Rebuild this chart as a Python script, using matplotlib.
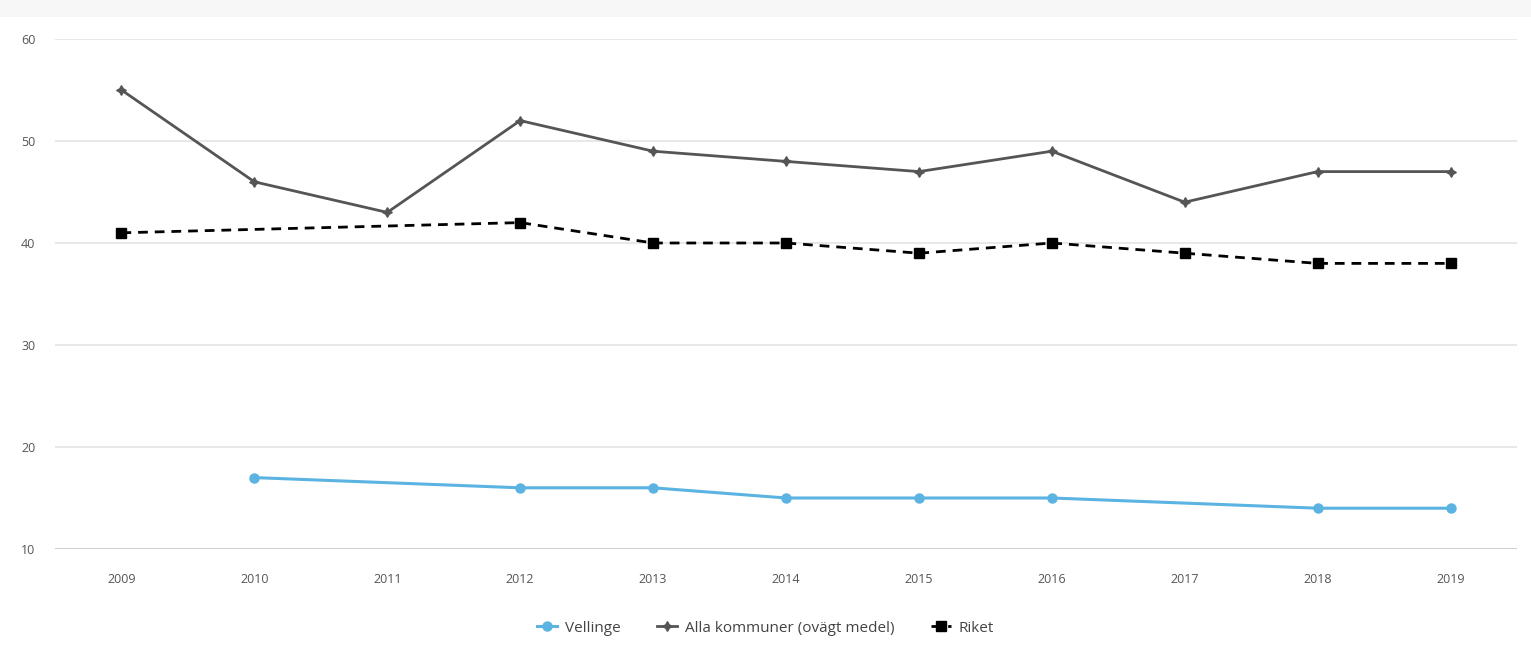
import numpy as np
import matplotlib
matplotlib.use("Agg")
import matplotlib.pyplot as plt
from matplotlib.patches import Rectangle

years = ["2009", "2010", "2011", "2012", "2013", "2014", "2015", "2016", "2017", "2018", "2019"]
vellinge = [None, 17, None, 16, 16, 15, 15, 15, None, 14, 14]
alla_kommuner = [55, 46, 43, 52, 49, 48, 47, 49, 44, 47, 47]
riket = [41, None, None, 42, 40, 40, 39, 40, 39, 38, 38]
y_ticks = [10, 20, 30, 40, 50, 60]

plt.rcParams["font.family"] = ["Open Sans", "DejaVu Sans"]

fig = plt.figure(figsize=(15.31, 6.66), dpi=100, facecolor="white")
fig.patches.append(Rectangle((0, 0.975), 1, 0.025, transform=fig.transFigure,
                             facecolor="#f7f7f7", edgecolor="none", zorder=0))
ax = fig.add_axes([55 / 1531, 1 - 549 / 666, (1517 - 55) / 1531, (549 - 39) / 666])

x = np.arange(len(years))


def present(vals):
    idx = [i for i, v in enumerate(vals) if v is not None]
    return x[idx], [vals[i] for i in idx]


vx, vy = present(vellinge)
ax.plot(vx, vy, color="#5ab3e0", lw=2.2, marker="o", ms=6.5, label="Vellinge", zorder=3)

ax.plot(x, alla_kommuner, color="#555555", lw=2.0, marker=(4, 1, 0), ms=7,
        label="Alla kommuner (ovägt medel)", zorder=3)

rx, ry = present(riket)
ax.plot(rx, ry, color="#000000", lw=2.0, ls=(0, (3.5, 2.5)), marker="s", ms=7,
        label="Riket", zorder=3)

ax.set_xlim(-0.5, len(years) - 0.5)
ax.set_ylim(10, 60)
ax.set_yticks(y_ticks)
ax.set_xticks(x)
ax.set_xticklabels(years)
ax.grid(axis="y", color="#e4e4e4", lw=1.2)
ax.set_axisbelow(True)
for s in ax.spines.values():
    s.set_visible(False)
ax.axhline(10, color="#d0d0d0", lw=1.5, zorder=1)
ax.tick_params(axis="both", length=0, labelsize=9, labelcolor="#555555")
ax.tick_params(axis="x", pad=17)
ax.tick_params(axis="y", pad=14)

leg = fig.legend(loc="center", bbox_to_anchor=(0.5, 1 - 628 / 666), ncol=3, frameon=False,
                 fontsize=11, handlelength=1.3, columnspacing=2.4, handletextpad=0.5)
for t in leg.get_texts():
    t.set_color("#444444")

fig.savefig("out.png", dpi=100, facecolor="white")
